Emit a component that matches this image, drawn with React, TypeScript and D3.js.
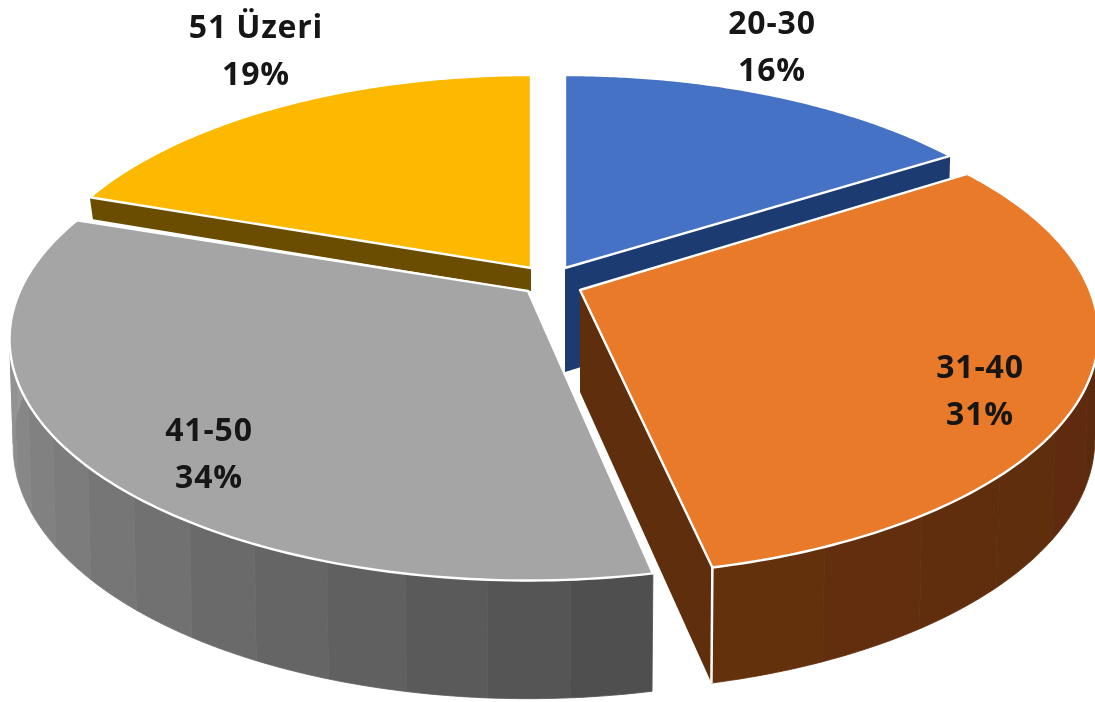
import React from "react";
import * as d3 from "d3";

const categories = ["20-30", "31-40", "41-50", "51 Üzeri"];
const shares = [16, 31, 34, 19];
const topColors = ["#4472c4", "#e87a2b", "#a5a5a5", "#fcb900"];
const leftWall = ["#1f3a70", "#64300c", "#a6a6a6", "#6b4e00"];
const rightWall = ["#1f3a70", "#562809", "#4c4c4c", "#6b4e00"];

// layout: apex of every exploded slice, radii, perspective and wall depth
const apexX = [565, 580, 528, 531];
const apexY = [268, 290, 291, 268];
const radius = [505, 508, 508, 497];
const arcShiftY = [0, -4, 0, 0];
const startNudge = [0, 0, -0.6, -2.6];
const endNudge = [0, -1.3, -2.6, 0];
const wallDepth = [104, 102, 104, 23];
const labelX = [772, 980, 209, 256];
const labelY = [34, 378, 441, 38];
const persp = 0.2;
const flat = 231.6;
const depthPersp = 0.12;

type P = [number, number];
const line = d3.line<P>().x((d) => d[0]).y((d) => d[1]);
const rad = (deg: number) => (deg * Math.PI) / 180;

function top(i: number, a: number): P {
  const u = Math.sin(a);
  const v = -Math.cos(a);
  const w = 1 - persp * v;
  return [apexX[i] + (radius[i] * u) / w, apexY[i] + arcShiftY[i] + (flat * v) / w];
}
function bottom(i: number, a: number): P {
  const [x, y] = top(i, a);
  const v = -Math.cos(a);
  return [apexX[i] + (x - apexX[i]) * 0.993, y + wallDepth[i] / (1 - depthPersp * v)];
}
const apexBottom = (i: number): P => [apexX[i], apexY[i] + wallDepth[i]];

function arcPts(i: number, a0: number, a1: number, n = 120): P[] {
  return d3.range(n + 1).map((k) => top(i, a0 + ((a1 - a0) * k) / n));
}

export default function App() {
  const arcs = d3.pie<number>().sort(null)(shares);
  const order = [0, 3, 2, 1]; // back to front
  const blurId = "soft";

  return (
    <svg width={1095} height={702} style={{ position: "absolute", left: 0, top: 0, background: "#fff" }}>
      <defs>
        <filter id={blurId} x="-2%" y="-2%" width="104%" height="104%">
          <feGaussianBlur stdDeviation={0.7} />
        </filter>
      </defs>
      <g filter={`url(#${blurId})`}>
        {order.map((i) => {
          const a0 = arcs[i].startAngle + rad(startNudge[i]);
          const a1 = arcs[i].endAngle + rad(endNudge[i]);
          const apex: P = [apexX[i], apexY[i]];
          const isFront = i === 1 || i === 2;
          const nBands = i === 2 ? 16 : 10;
          const shade = d3
            .scaleLinear<string>()
            .domain([a1, a0])
            .range([leftWall[i], rightWall[i]])
            .interpolate(d3.interpolateRgb);
          const bandEdges = d3.range(nBands + 1).map((k) => a0 + ((a1 - a0) * k) / nBands);
          return (
            <g key={i}>
              {(i === 0 || i === 3) && (
                <path
                  d={
                    line(
                      i === 0
                        ? [apex, top(i, a1), bottom(i, a1), apexBottom(i)]
                        : [apex, top(i, a0), bottom(i, a0), apexBottom(i)]
                    ) + "Z"
                  }
                  fill={rightWall[i]}
                />
              )}
              {i === 1 && (
                <path
                  d={line([apex, top(i, a1), bottom(i, a1), apexBottom(i)]) + "Z"}
                  fill="#5f2d0c"
                />
              )}
              {isFront &&
                d3.pairs(bandEdges).map(([b0, b1], k) => {
                  const up = arcPts(i, b0, b1, 12);
                  const low = d3.range(13).map((m) => bottom(i, b0 + ((b1 - b0) * m) / 12));
                  const c = shade((b0 + b1) / 2);
                  return <path key={k} d={line([...up, ...low.reverse()]) + "Z"} fill={c} stroke={c} strokeWidth={0.8} />;
                })}
              {i === 1 && (
                <path d={line([top(i, a1), bottom(i, a1)]) as string} stroke="#fff" strokeWidth={2.5} fill="none" />
              )}
              <path
                d={line([apex, ...arcPts(i, a0, a1)]) + "Z"}
                fill={topColors[i]}
                stroke="#fff"
                strokeWidth={2.4}
                strokeLinejoin="round"
              />
            </g>
          );
        })}
        {order.map((i) => (
          <text
            key={i}
            textAnchor="middle"
            fontFamily="'Open Sans', Lato, sans-serif"
            fontWeight={700}
            fontSize={32}
            letterSpacing={0.8}
            fill="#151515"
          >
            <tspan x={labelX[i]} y={labelY[i]}>
              {categories[i]}
            </tspan>
            <tspan x={labelX[i]} y={labelY[i] + 47}>
              {shares[i]}%
            </tspan>
          </text>
        ))}
      </g>
    </svg>
  );
}
